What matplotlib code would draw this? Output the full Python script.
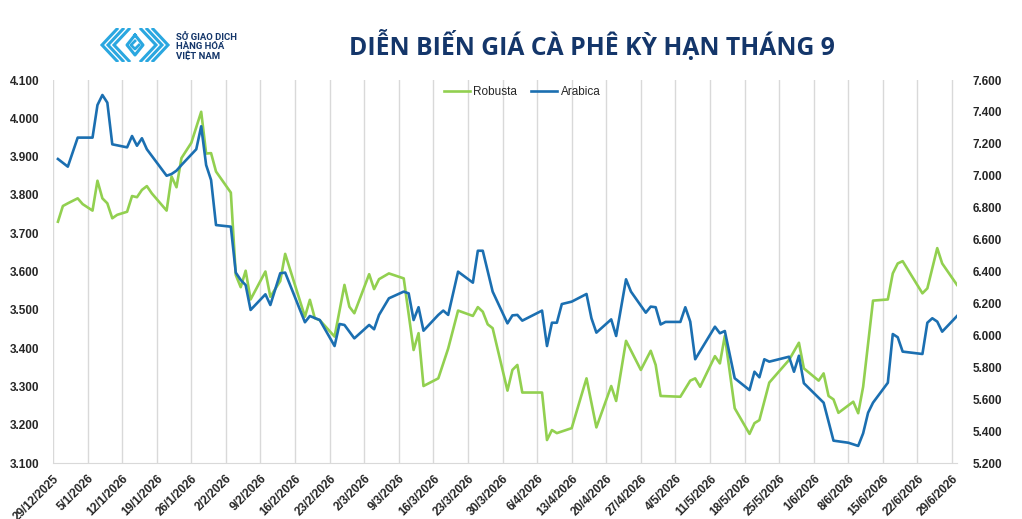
import matplotlib
matplotlib.use("Agg")
import matplotlib.pyplot as plt
from matplotlib.lines import Line2D
from matplotlib.ticker import FuncFormatter, MultipleLocator
import pandas as pd

# Robusta (USD/tấn) - trục trái
robusta_dates = [
    "2025-12-30", "2025-12-31", "2026-01-01", "2026-01-03", "2026-01-04", "2026-01-06",
    "2026-01-07", "2026-01-08", "2026-01-09", "2026-01-10", "2026-01-11", "2026-01-13",
    "2026-01-14", "2026-01-15", "2026-01-16", "2026-01-17", "2026-01-18", "2026-01-21",
    "2026-01-22", "2026-01-23", "2026-01-24", "2026-01-26", "2026-01-28", "2026-01-29",
    "2026-01-30", "2026-01-31", "2026-02-03", "2026-02-04", "2026-02-05", "2026-02-06",
    "2026-02-07", "2026-02-10", "2026-02-11", "2026-02-13", "2026-02-14", "2026-02-18",
    "2026-02-19", "2026-02-20", "2026-02-21", "2026-02-24", "2026-02-26", "2026-02-27",
    "2026-02-28", "2026-03-03", "2026-03-04", "2026-03-05", "2026-03-07", "2026-03-10",
    "2026-03-12", "2026-03-13", "2026-03-14", "2026-03-17", "2026-03-19", "2026-03-21",
    "2026-03-24", "2026-03-25", "2026-03-26", "2026-03-27", "2026-03-28", "2026-03-31",
    "2026-04-01", "2026-04-02", "2026-04-03", "2026-04-07", "2026-04-08", "2026-04-09",
    "2026-04-10", "2026-04-13", "2026-04-15", "2026-04-16", "2026-04-18", "2026-04-21",
    "2026-04-22", "2026-04-24", "2026-04-27", "2026-04-29", "2026-04-30", "2026-05-01",
    "2026-05-05", "2026-05-07", "2026-05-08", "2026-05-09", "2026-05-12", "2026-05-13",
    "2026-05-14", "2026-05-16", "2026-05-19", "2026-05-20", "2026-05-21", "2026-05-23",
    "2026-05-27", "2026-05-29", "2026-05-30", "2026-06-02", "2026-06-03", "2026-06-04",
    "2026-06-05", "2026-06-06", "2026-06-09", "2026-06-10", "2026-06-11", "2026-06-13",
    "2026-06-16", "2026-06-17", "2026-06-18", "2026-06-19", "2026-06-23", "2026-06-24",
    "2026-06-26", "2026-06-27", "2026-06-30",
]
robusta_values = [
    3730, 3771, 3778, 3791, 3776, 3759,
    3837, 3791, 3778, 3739, 3748, 3756,
    3797, 3794, 3813, 3823, 3804, 3759,
    3848, 3820, 3896, 3936, 4017, 3908,
    3909, 3861, 3806, 3591, 3559, 3602,
    3527, 3600, 3534, 3575, 3646, 3482,
    3526, 3478, 3473, 3430, 3565, 3508,
    3491, 3593, 3554, 3580, 3595, 3582,
    3395, 3439, 3301, 3321, 3399, 3498,
    3484, 3507, 3495, 3462, 3452, 3289,
    3343, 3356, 3284, 3284, 3160, 3186,
    3178, 3191, 3278, 3321, 3193, 3301,
    3262, 3419, 3343, 3393, 3356, 3275,
    3273, 3315, 3321, 3299, 3379, 3360,
    3432, 3243, 3176, 3204, 3212, 3310,
    3369, 3414, 3347, 3315, 3334, 3275,
    3266, 3231, 3260, 3230, 3299, 3524,
    3527, 3595, 3621, 3627, 3543, 3556,
    3661, 3621, 3565,
]

# Arabica (USD/tấn) - trục phải
arabica_dates = [
    "2025-12-30", "2026-01-01", "2026-01-03", "2026-01-06", "2026-01-07", "2026-01-08",
    "2026-01-09", "2026-01-10", "2026-01-13", "2026-01-14", "2026-01-15", "2026-01-16",
    "2026-01-17", "2026-01-21", "2026-01-22", "2026-01-23", "2026-01-24", "2026-01-27",
    "2026-01-28", "2026-01-29", "2026-01-30", "2026-01-31", "2026-02-03", "2026-02-04",
    "2026-02-05", "2026-02-06", "2026-02-07", "2026-02-10", "2026-02-11", "2026-02-13",
    "2026-02-14", "2026-02-18", "2026-02-19", "2026-02-21", "2026-02-24", "2026-02-25",
    "2026-02-26", "2026-02-28", "2026-03-03", "2026-03-04", "2026-03-05", "2026-03-07",
    "2026-03-10", "2026-03-11", "2026-03-12", "2026-03-13", "2026-03-14", "2026-03-17",
    "2026-03-18", "2026-03-19", "2026-03-21", "2026-03-24", "2026-03-25", "2026-03-26",
    "2026-03-28", "2026-03-31", "2026-04-01", "2026-04-02", "2026-04-03", "2026-04-07",
    "2026-04-08", "2026-04-09", "2026-04-10", "2026-04-11", "2026-04-13", "2026-04-16",
    "2026-04-17", "2026-04-18", "2026-04-21", "2026-04-22", "2026-04-24", "2026-04-25",
    "2026-04-28", "2026-04-29", "2026-04-30", "2026-05-01", "2026-05-02", "2026-05-05",
    "2026-05-06", "2026-05-07", "2026-05-08", "2026-05-12", "2026-05-13", "2026-05-14",
    "2026-05-16", "2026-05-19", "2026-05-20", "2026-05-21", "2026-05-22", "2026-05-23",
    "2026-05-27", "2026-05-28", "2026-05-29", "2026-05-30", "2026-06-03", "2026-06-05",
    "2026-06-08", "2026-06-10", "2026-06-11", "2026-06-12", "2026-06-13", "2026-06-16",
    "2026-06-17", "2026-06-18", "2026-06-19", "2026-06-23", "2026-06-24", "2026-06-25",
    "2026-06-26", "2026-06-27", "2026-06-30",
]
arabica_values = [
    7105, 7057, 7239, 7239, 7443, 7506,
    7458, 7197, 7178, 7249, 7188, 7235,
    7166, 7000, 7011, 7032, 7067, 7166,
    7310, 7067, 6973, 6691, 6681, 6393,
    6347, 6315, 6159, 6257, 6190, 6389,
    6393, 6082, 6121, 6096, 5933, 6071,
    6065, 5981, 6065, 6038, 6128, 6232,
    6274, 6263, 6096, 6176, 6029, 6128,
    6155, 6128, 6399, 6330, 6530, 6530,
    6274, 6075, 6125, 6128, 6092, 6155,
    5933, 6079, 6079, 6196, 6211, 6259,
    6107, 6017, 6100, 5996, 6351, 6274,
    6142, 6180, 6176, 6068, 6084, 6084,
    6176, 6086, 5850, 6054, 6013, 6027,
    5731, 5657, 5772, 5737, 5850, 5835,
    5866, 5772, 5872, 5700, 5578, 5340,
    5327, 5307, 5386, 5515, 5578, 5703,
    6008, 5988, 5898, 5883, 6079, 6107,
    6086, 6023, 6121,
]

tick_dates = pd.date_range("2025-12-29", "2026-06-29", freq="7D")
tick_labels = [f"{d.day}/{d.month}/{d.year}" for d in tick_dates]

GREEN = "#92d050"
BLUE = "#1b6fb1"
NAVY = "#14366a"
TXT = "#262626"

plt.rcParams["font.family"] = ["Liberation Sans", "DejaVu Sans"]

fig = plt.figure(figsize=(10.22, 5.19), dpi=100)
ax = fig.add_axes([53 / 1022, 1 - 463 / 519, 904 / 1022, 383 / 519])
ax2 = ax.twinx()

ax.plot(pd.to_datetime(robusta_dates), robusta_values, color=GREEN, lw=1.9,
        solid_joinstyle="round", label="Robusta")
ax2.plot(pd.to_datetime(arabica_dates), arabica_values, color=BLUE, lw=1.9,
         solid_joinstyle="round", label="Arabica")

ax.set_xlim(pd.Timestamp("2025-12-29"), pd.Timestamp("2026-06-30"))
ax.set_ylim(3100, 4100)
ax2.set_ylim(5200, 7600)
ax.yaxis.set_major_locator(MultipleLocator(100))
ax2.yaxis.set_major_locator(MultipleLocator(200))

fmt = FuncFormatter(lambda v, p: f"{v:,.0f}".replace(",", "."))
ax.yaxis.set_major_formatter(fmt)
ax2.yaxis.set_major_formatter(fmt)

ax.set_xticks(tick_dates)
ax.set_xticklabels(tick_labels, rotation=45, ha="right", rotation_mode="anchor")
ax.grid(axis="x", color="#d9d9d9", lw=1)
ax.set_axisbelow(True)

for a in (ax, ax2):
    for s in ("top", "left", "right"):
        a.spines[s].set_visible(False)
ax2.spines["bottom"].set_visible(False)
ax.spines["bottom"].set_color("#d9d9d9")

ax.tick_params(axis="x", length=0, pad=7, labelsize=8.5, labelcolor=TXT)
ax.tick_params(axis="y", length=0, pad=10, labelsize=8.5, labelcolor=TXT)
ax2.tick_params(axis="y", length=0, pad=11, labelsize=8.5, labelcolor=TXT)
for lab in ax.get_xticklabels() + ax.get_yticklabels() + ax2.get_yticklabels():
    lab.set_fontweight("bold")

handles = [Line2D([], [], color=GREEN, lw=1.9), Line2D([], [], color=BLUE, lw=1.9)]
fig.legend(handles, ["Robusta", "Arabica"], loc="center", ncol=2, frameon=False,
           bbox_to_anchor=(522 / 1022, 1 - 92 / 519), fontsize=8.5,
           handlelength=2.2, handletextpad=0.3, columnspacing=1.2, labelcolor=TXT)

# tiêu đề
fig.text(592 / 1022, 1 - 45 / 519, "DIỄN BIẾN GIÁ CÀ PHÊ KỲ HẠN THÁNG 9",
         ha="center", va="center", fontsize=17.8, fontweight="bold",
         color=NAVY, family=["Open Sans", "DejaVu Sans"])

# logo
lax = fig.add_axes([100 / 1022, 1 - 62 / 519, 70 / 1022, 34 / 519])
lax.set_xlim(0, 70)
lax.set_ylim(0, 34)
lax.axis("off")
LOGO = "#2aa7e0"
for i in range(3):
    x0 = 2 + i * 6
    lax.plot([x0 + 15, x0, x0 + 15], [33, 17, 1], color=LOGO, lw=2.2,
             solid_joinstyle="miter")
    x1 = 68 - i * 6
    lax.plot([x1 - 15, x1, x1 - 15], [33, 17, 1], color=LOGO, lw=2.2,
             solid_joinstyle="miter")
lax.plot([35, 27, 35, 43, 35], [27, 17, 7, 17, 27], color=LOGO, lw=2.2)
lax.plot([35, 31, 35, 39], [21, 17, 13, 17], color=LOGO, lw=2.0)

for k, line in enumerate(["SỞ GIAO DỊCH", "HÀNG HÓA", "VIỆT NAM"]):
    fig.text(176 / 1022, 1 - (37 + k * 9.5) / 519, line, ha="left", va="center",
             fontsize=6.8, fontweight="bold", color=NAVY,
             family=["Roboto", "DejaVu Sans"])

fig.savefig("out.png", dpi=100)
